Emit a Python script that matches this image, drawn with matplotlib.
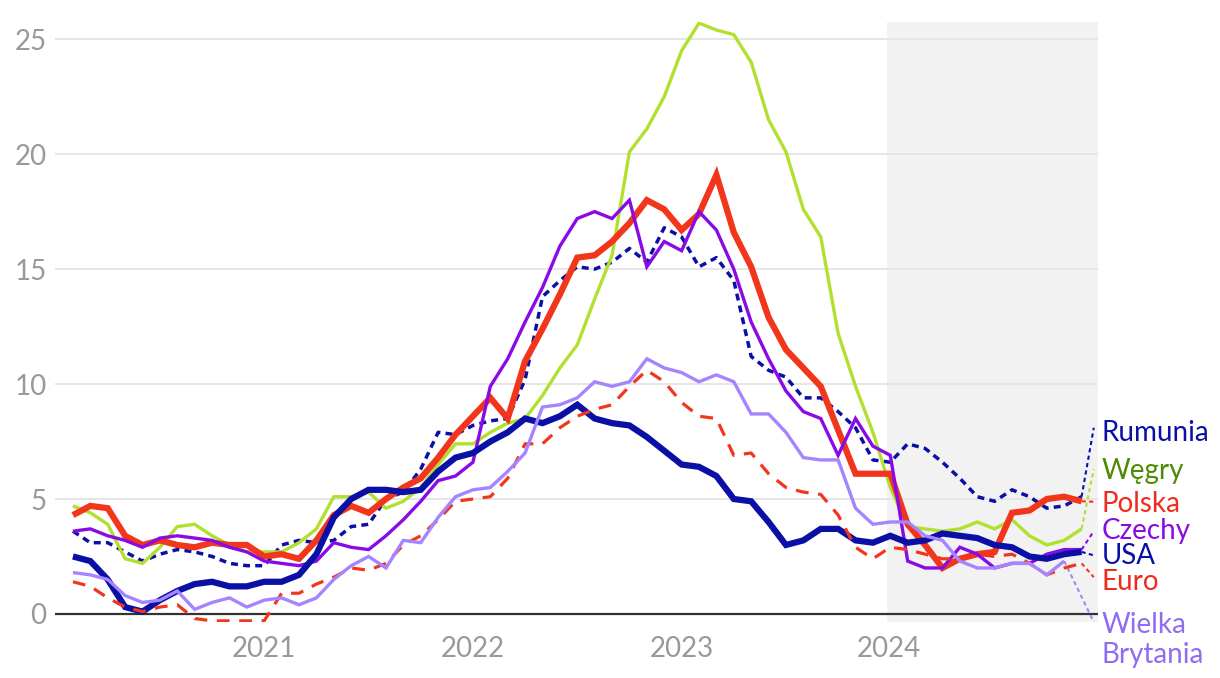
import matplotlib.pyplot as plt

plt.rcParams['font.family'] = ['Lato', 'DejaVu Sans']

# monthly CPI y/y, Jan 2020 - Nov 2024
polska = [4.3, 4.7, 4.6, 3.4, 3.0, 3.2, 3.0, 2.9, 3.1, 3.0, 3.0, 2.5,
          2.6, 2.4, 3.2, 4.3, 4.7, 4.4, 5.0, 5.5, 5.9, 6.8, 7.8, 8.6,
          9.4, 8.5, 11.0, 12.4, 13.9, 15.5, 15.6, 16.2, 17.0, 18.0, 17.6, 16.7,
          17.4, 19.1, 16.6, 15.1, 12.9, 11.5, 10.7, 9.9, 8.0, 6.1, 6.1, 6.1,
          3.9, 3.0, 2.0, 2.4, 2.6, 2.7, 4.4, 4.5, 5.0, 5.1, 4.9]
wegry = [4.7, 4.4, 3.9, 2.4, 2.2, 2.9, 3.8, 3.9, 3.4, 3.0, 2.7, 2.7,
         2.7, 3.1, 3.7, 5.1, 5.1, 5.3, 4.6, 4.9, 5.5, 6.5, 7.4, 7.4,
         7.9, 8.3, 8.5, 9.5, 10.7, 11.7, 13.7, 15.6, 20.1, 21.1, 22.5, 24.5,
         25.7, 25.4, 25.2, 24.0, 21.5, 20.1, 17.6, 16.4, 12.2, 9.9, 7.9, 5.5,
         3.8, 3.7, 3.6, 3.7, 4.0, 3.7, 4.1, 3.4, 3.0, 3.2, 3.7]
czechy = [3.6, 3.7, 3.4, 3.2, 2.9, 3.3, 3.4, 3.3, 3.2, 2.9, 2.7, 2.3,
          2.2, 2.1, 2.3, 3.1, 2.9, 2.8, 3.4, 4.1, 4.9, 5.8, 6.0, 6.6,
          9.9, 11.1, 12.7, 14.2, 16.0, 17.2, 17.5, 17.2, 18.0, 15.1, 16.2, 15.8,
          17.5, 16.7, 15.0, 12.7, 11.1, 9.7, 8.8, 8.5, 6.9, 8.5, 7.3, 6.9,
          2.3, 2.0, 2.0, 2.9, 2.6, 2.0, 2.2, 2.2, 2.6, 2.8, 2.8]
rumunia = [3.6, 3.1, 3.1, 2.7, 2.3, 2.6, 2.8, 2.7, 2.5, 2.2, 2.1, 2.1,
           3.0, 3.2, 3.1, 3.2, 3.8, 3.9, 5.0, 5.3, 6.3, 7.9, 7.8, 8.2,
           8.4, 8.5, 10.2, 13.8, 14.5, 15.1, 15.0, 15.3, 15.9, 15.3, 16.8, 16.4,
           15.1, 15.5, 14.5, 11.2, 10.6, 10.3, 9.4, 9.4, 8.8, 8.1, 6.7, 6.6,
           7.4, 7.2, 6.6, 5.9, 5.1, 4.9, 5.4, 5.1, 4.6, 4.7, 5.1]
usa = [2.5, 2.3, 1.5, 0.3, 0.1, 0.6, 1.0, 1.3, 1.4, 1.2, 1.2, 1.4,
       1.4, 1.7, 2.6, 4.2, 5.0, 5.4, 5.4, 5.3, 5.4, 6.2, 6.8, 7.0,
       7.5, 7.9, 8.5, 8.3, 8.6, 9.1, 8.5, 8.3, 8.2, 7.7, 7.1, 6.5,
       6.4, 6.0, 5.0, 4.9, 4.0, 3.0, 3.2, 3.7, 3.7, 3.2, 3.1, 3.4,
       3.1, 3.2, 3.5, 3.4, 3.3, 3.0, 2.9, 2.5, 2.4, 2.6, 2.7]
euro = [1.4, 1.2, 0.7, 0.3, 0.1, 0.3, 0.4, -0.2, -0.3, -0.3, -0.3, -0.3,
        0.9, 0.9, 1.3, 1.6, 2.0, 1.9, 2.2, 3.0, 3.4, 4.1, 4.9, 5.0,
        5.1, 5.9, 7.4, 7.4, 8.1, 8.6, 8.9, 9.1, 9.9, 10.6, 10.1, 9.2,
        8.6, 8.5, 6.9, 7.0, 6.1, 5.5, 5.3, 5.2, 4.3, 2.9, 2.4, 2.9,
        2.8, 2.6, 2.4, 2.4, 2.6, 2.5, 2.6, 2.2, 1.7, 2.0, 2.2]
wb = [1.8, 1.7, 1.5, 0.8, 0.5, 0.6, 1.0, 0.2, 0.5, 0.7, 0.3, 0.6,
      0.7, 0.4, 0.7, 1.5, 2.1, 2.5, 2.0, 3.2, 3.1, 4.2, 5.1, 5.4,
      5.5, 6.2, 7.0, 9.0, 9.1, 9.4, 10.1, 9.9, 10.1, 11.1, 10.7, 10.5,
      10.1, 10.4, 10.1, 8.7, 8.7, 7.9, 6.8, 6.7, 6.7, 4.6, 3.9, 4.0,
      4.0, 3.4, 3.2, 2.3, 2.0, 2.0, 2.2, 2.2, 1.7, 2.3]

years = ['2021', '2022', '2023', '2024']
yticks = [0, 5, 10, 15, 20, 25]

# name, data, line colour, label colour, width, dashes, label y
series = [
    ('Rumunia', rumunia, '#0a10a6', '#0a10a6', 2.5, (2.0, 1.5), 7.85),
    ('Węgry', wegry, '#b2e02e', '#4f8a06', 2.4, None, 6.2),
    ('Polska', polska, '#f2361c', '#ee2b1c', 4.5, None, 4.8),
    ('Czechy', czechy, '#8a0ae6', '#8a0ae6', 2.4, None, 3.6),
    ('USA', usa, '#0a10a6', '#0a10a6', 4.5, None, 2.5),
    ('Euro', euro, '#f2361c', '#ee2b1c', 2.3, (4.0, 3.0), 1.38),
    ('Wielka\nBrytania', wb, '#a584ff', '#8f6cf2', 2.4, None, -1.15),
]
# where each dotted pointer ends next to the label
pointer_y = [8.1, 6.3, 4.88, 3.6, 2.55, 1.6, -0.35]

fig = plt.figure(figsize=(12.2, 6.78), dpi=100)
ax = fig.add_axes([0.0451, 0.0826, 0.855, 0.885])

ax.axvspan(46.8, 60, color='#f2f2f2', zorder=0, lw=0)
for v in yticks[1:]:
    ax.axhline(v, color='#e6e6e6', lw=1.4, zorder=1)
ax.axhline(0, color='#333333', lw=1.6, zorder=2)

order = [6, 5, 0, 1, 3, 2, 4]
for k in order:
    name, vals, col, lcol, lw, dash, ly = series[k]
    xs = list(range(len(vals)))
    line, = ax.plot(xs, vals, color=col, lw=lw, zorder=3 + k * 0.1,
                    solid_joinstyle='miter', solid_capstyle='butt')
    if dash:
        line.set_dashes(dash)
    ax.plot([xs[-1], 58.7], [vals[-1], pointer_y[k]], color=col, lw=1.5,
            ls=(0, (2, 1.6)), clip_on=False, zorder=3)
    ax.text(59.15, ly, name, color=lcol, fontsize=20, va='center', ha='left',
            linespacing=1.2, clip_on=False)

ax.set_xlim(-1.03, 58.95)
ax.set_ylim(-0.35, 25.75)
ax.set_xticks([11, 23, 35, 46.9])
ax.set_xticklabels(years)
ax.set_yticks(yticks)
ax.tick_params(length=0, labelsize=20, colors='#999999')
ax.tick_params(axis='x', pad=10)
ax.tick_params(axis='y', pad=6)
for s in ax.spines.values():
    s.set_visible(False)

plt.savefig('out.png', dpi=100)
